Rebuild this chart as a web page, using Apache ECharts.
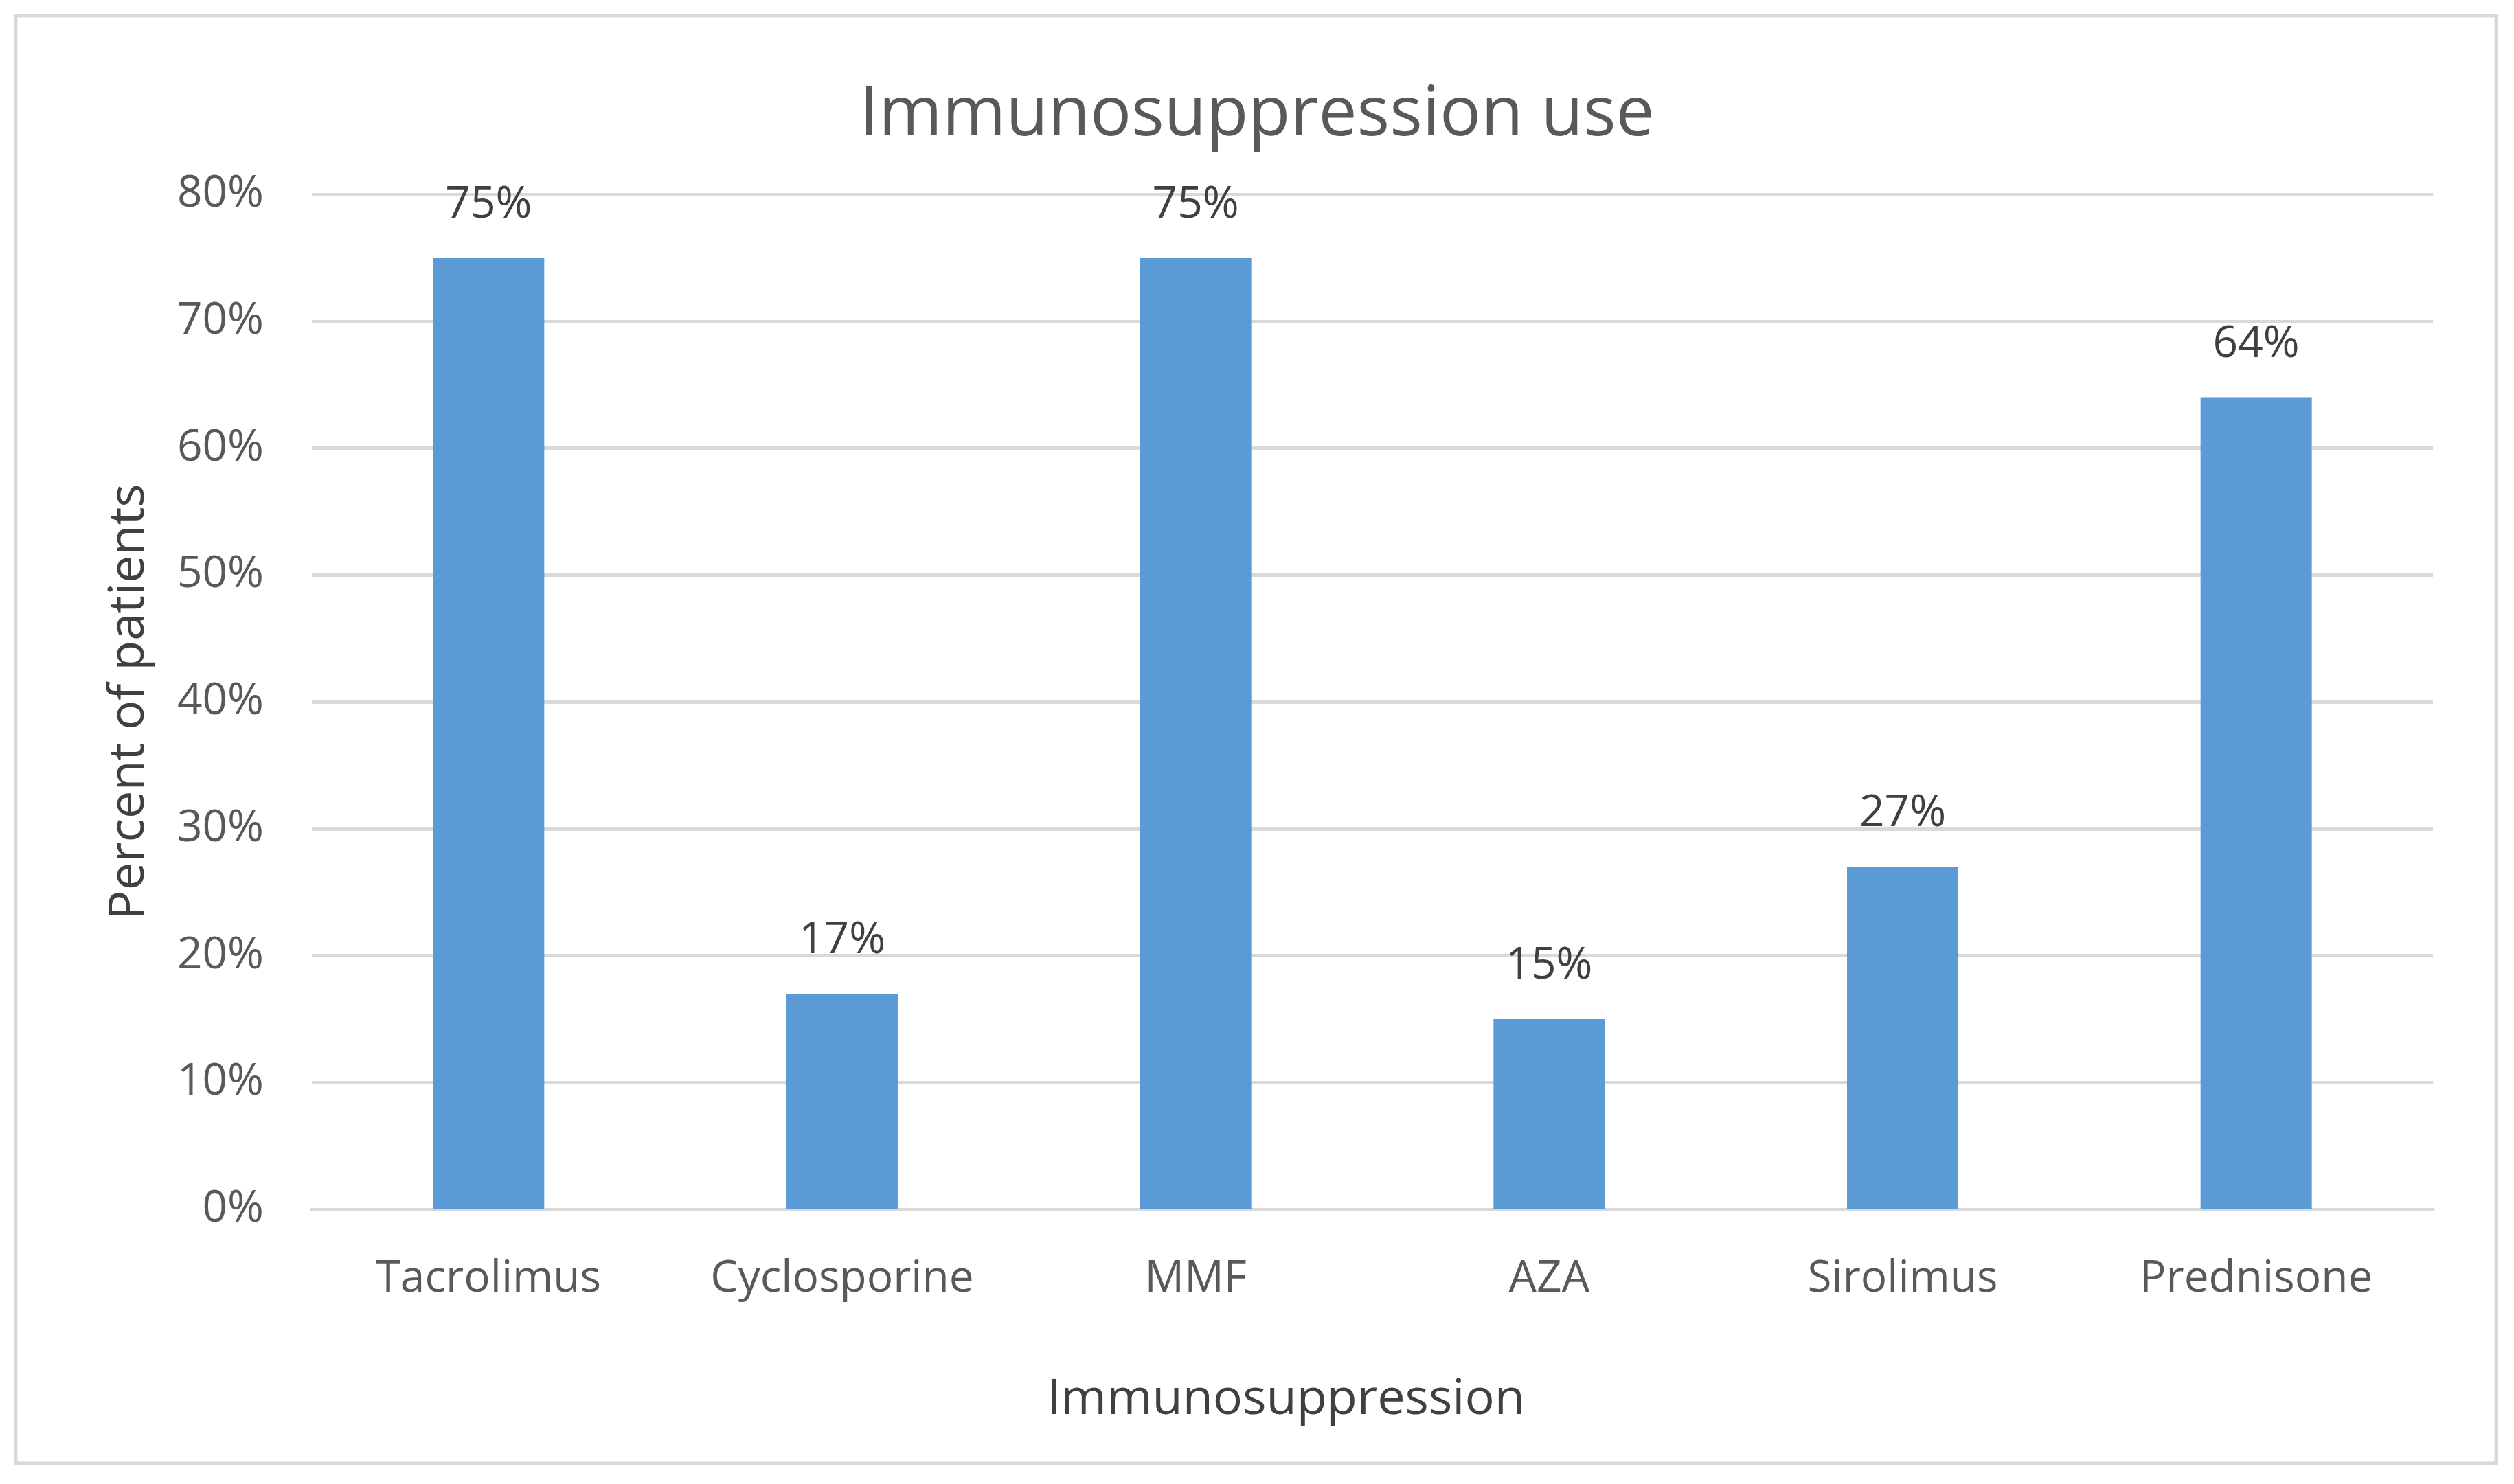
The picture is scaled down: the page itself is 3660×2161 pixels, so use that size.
<!DOCTYPE html>
<html>
<head>
<meta charset="utf-8">
<script src="https://cdn.jsdelivr.net/npm/echarts@6/dist/echarts.min.js"></script>
<style>
html,body{margin:0;padding:0;background:#fff;}
#c{width:3660px;height:2161px;}
</style>
</head>
<body>
<div id="c"></div>
<script>
const categories = ["Tacrolimus", "Cyclosporine", "MMF", "AZA", "Sirolimus", "Prednisone"];
const values = [75, 17, 75, 15, 27, 64];
const yTicks = { min: 0, max: 80, interval: 10 };
const titleText = "Immunosuppression use";
const xTitle = "Immunosuppression";
const yTitle = "Percent of patients";

const FONT = "Open Sans";
const chart = echarts.init(document.getElementById('c'), null, {renderer: 'canvas'});
chart.setOption({
  backgroundColor: '#ffffff',
  animation: false,
  title: {
    text: titleText,
    left: 'center',
    top: 114,
    textStyle: { fontFamily: FONT, fontSize: 100, fontWeight: 'normal', color: '#595959' }
  },
  graphic: [{
    type: 'rect',
    shape: { x: 23, y: 23, width: 3611, height: 2108 },
    style: { fill: 'none', stroke: '#d9d9d9', lineWidth: 5 },
    silent: true
  }, {
    type: 'text',
    x: 1872, y: 2038,
    style: {
      text: xTitle, fontFamily: FONT, fontSize: 72, fill: '#404040',
      textAlign: 'center', textVerticalAlign: 'middle'
    },
    silent: true
  }],
  grid: { left: 454, right: 3660 - 3542, top: 283, bottom: 2161 - 1761, containLabel: false },
  xAxis: {
    type: 'category',
    data: categories,
    axisLine: { show: true, lineStyle: { color: '#d9d9d9', width: 5 } },
    axisTick: { show: false },
    axisLabel: { fontFamily: FONT, fontSize: 64, color: '#595959', margin: 70 }
  },
  yAxis: {
    type: 'value',
    min: yTicks.min, max: yTicks.max, interval: yTicks.interval,
    name: yTitle,
    nameLocation: 'middle',
    nameGap: 230,
    nameTextStyle: { fontFamily: FONT, fontSize: 72, color: '#404040' },
    axisLine: { show: false },
    axisTick: { show: false },
    axisLabel: { fontFamily: FONT, fontSize: 64, color: '#595959', margin: 70, formatter: v => v + '%' },
    splitLine: { lineStyle: { color: '#d9d9d9', width: 5 } }
  },
  series: [{
    type: 'bar',
    data: values,
    barWidth: 162,
    itemStyle: { color: '#5B9BD5' },
    label: {
      show: true, position: 'top', distance: 45,
      fontFamily: FONT, fontSize: 64, color: '#404040',
      formatter: p => p.value + '%'
    }
  }]
});
</script>
</body>
</html>
